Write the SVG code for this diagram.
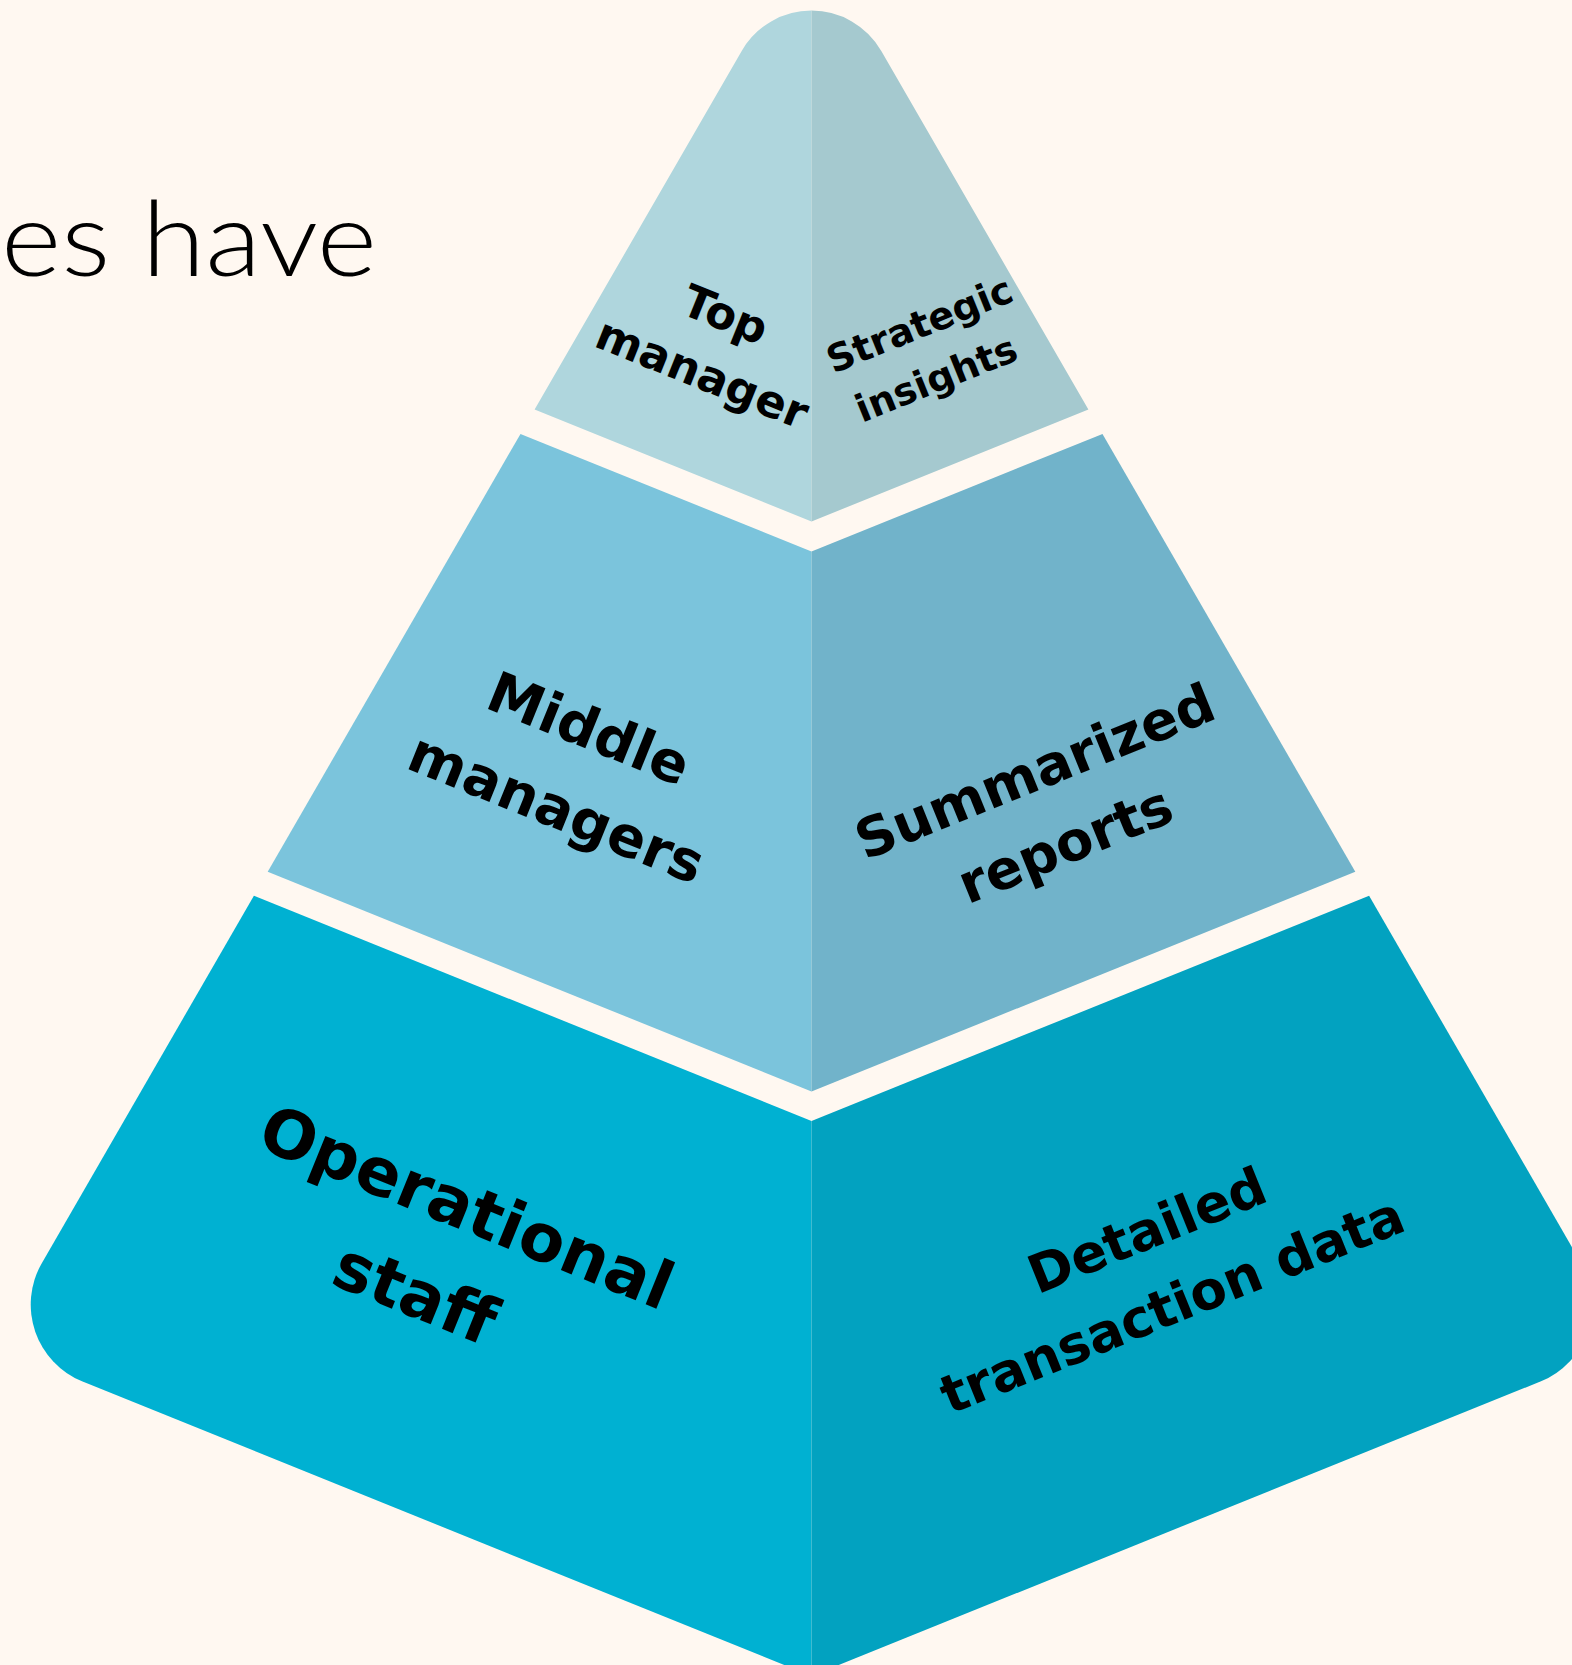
<svg xmlns="http://www.w3.org/2000/svg" width="1572" height="1665" viewBox="0 0 1572 1665">
  <style>
    .lbl { font-family: "DejaVu Sans", "Liberation Sans", sans-serif; font-weight: 700; fill: #000; text-anchor: middle; }
    .title { font-family: Lato, "Open Sans", "Liberation Sans", sans-serif; font-weight: 300; fill: #000; }
    .tl { fill: #AFD6DD; } .tr { fill: #A5C9CF; }
    .ml { fill: #7BC4DC; } .mr { fill: #71B3CA; }
    .bl { fill: #00B1D2; } .br { fill: #02A2C0; }
  </style>
  <rect x="0" y="0" width="1572" height="1665" fill="#FFF8F1"/>

  <g id="title">
    <text class="title" x="1" y="276" font-size="104" textLength="376" lengthAdjust="spacingAndGlyphs">es have</text>
  </g>

  <g id="tier-top">
    <path class="tl" d="M811.5,10.6 A80.6,80.6 0 0 0 741.7,50.9 L534.6,409.6 L811.5,521.5 Z"/>
    <path class="tr" d="M811.5,10.6 A80.6,80.6 0 0 1 881.3,50.9 L1088.4,409.6 L811.5,521.5 Z"/>
    <text class="lbl" font-size="45" transform="translate(724 318) rotate(22)" x="0" y="12">Top</text>
    <text class="lbl" font-size="45" transform="translate(701 376.7) rotate(22)" x="0" y="12">manager</text>
    <text class="lbl" font-size="38" transform="translate(920 325.7) rotate(-22)" x="0" y="12">Strategic</text>
    <text class="lbl" font-size="38" transform="translate(937 380.7) rotate(-22)" x="0" y="11">insights</text>
  </g>

  <g id="tier-middle">
    <path class="ml" d="M811.5,551.5 L520.5,433.9 L267.7,871.8 L811.5,1091.5 Z"/>
    <path class="mr" d="M811.5,551.5 L1102.5,433.9 L1355.3,871.8 L811.5,1091.5 Z"/>
    <text class="lbl" font-size="56" transform="translate(588.3 730) rotate(22)" x="0" y="18">Middle</text>
    <text class="lbl" font-size="56" transform="translate(555 812.3) rotate(22)" x="0" y="15">managers</text>
    <text class="lbl" font-size="54.5" transform="translate(1035.5 773.3) rotate(-22)" x="0" y="17">Summarized</text>
    <text class="lbl" font-size="54.5" transform="translate(1066.7 848.3) rotate(-22)" x="0" y="15">reports</text>
  </g>

  <g id="tier-bottom">
    <path class="bl" d="M811.5,1121 L253.9,895.7 L41.5,1263.7 A83,83 0 0 0 82,1381.3 L811.5,1676 Z"/>
    <path class="br" d="M811.5,1121 L1369.1,895.7 L1581.5,1263.7 A83,83 0 0 1 1541,1381.3 L811.5,1676 Z"/>
    <text class="lbl" font-size="66" transform="translate(466 1209) rotate(22)" x="0" y="21">Operational</text>
    <text class="lbl" font-size="66" transform="translate(414 1297) rotate(22)" x="0" y="19">staff</text>
    <text class="lbl" font-size="53" transform="translate(1147.5 1231.7) rotate(-22)" x="0" y="17">Detailed</text>
    <text class="lbl" font-size="53" transform="translate(1173.3 1308.3) rotate(-22)" x="0" y="15">transaction data</text>
  </g>
</svg>
